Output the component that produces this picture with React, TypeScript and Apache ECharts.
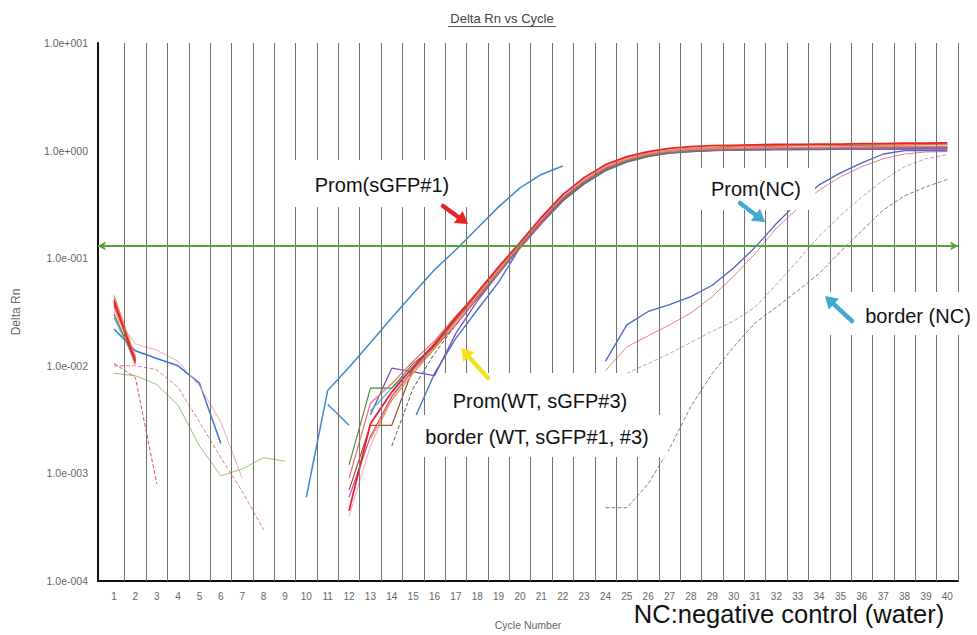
import React, { useEffect, useRef } from "react";
import * as echarts from "echarts";

const _ = null;
const FONT = "'Liberation Sans', Arial, sans-serif";

// ---------- axes ----------
const CYCLE_LABELS = [1, 2, 3, 4, 5, 6, 7, 8, 9, 10, 11, 12, 13, 14, 15, 16, 17, 18, 19, 20,
  21, 22, 23, 24, 25, 26, 27, 28, 29, 30, 31, 32, 33, 34, 35, 36, 37, 38, 39, 40];
const GRID_LINE_CYCLES = [1.5, 2.5, 3.5, 4.5, 5.5, 6.5, 7.5, 8.5, 9.5, 10.5, 11.5, 12.5, 13.5, 14.5,
  15.5, 16.5, 17.5, 18.5, 19.5, 20.5, 21.5, 22.5, 23.5, 24.5, 25.5, 26.5, 27.5, 28.5, 29.5, 30.5,
  31.5, 32.5, 33.5, 34.5, 35.5, 36.5, 37.5, 38.5, 39.5, 40.5];
const THRESHOLD = 0.125;

// ---------- data: Delta Rn per cycle (index 0 = cycle 1) ----------
// main cluster: Prom(WT, sGFP#3), border (WT, sGFP#1, #3)
const WT_RED = [0.040, 0.011, _, _, _, _, _, _, _, _, _,
  0.00045, 0.0029, 0.0057, 0.0098, 0.016, 0.028, 0.048, 0.083, 0.14,
  0.24, 0.39, 0.56, 0.74, 0.88, 0.98, 1.05, 1.09, 1.11, 1.12,
  1.13, 1.14, 1.14, 1.15, 1.15, 1.16, 1.16, 1.17, 1.17, 1.18];
const WT_PINK = [0.035, 0.012, _, _, _, _, _, _, _, _, _,
  0.0009, 0.0045, 0.0068, 0.011, 0.017, 0.029, 0.047, 0.080, 0.135,
  0.23, 0.37, 0.53, 0.70, 0.83, 0.93, 0.99, 1.02, 1.04, 1.05,
  1.06, 1.06, 1.07, 1.07, 1.08, 1.08, 1.09, 1.09, 1.10, 1.10];
const WT_ORANGE = [0.045, 0.012, _, _, _, _, _, _, _, _, _,
  _, 0.0021, 0.0048, 0.0085, 0.0145, 0.026, 0.045, 0.078, 0.134,
  0.23, 0.37, 0.53, 0.71, 0.85, 0.95, 1.01, 1.05, 1.07, 1.09,
  1.10, 1.11, 1.12, 1.12, 1.13, 1.13, 1.14, 1.14, 1.15, 1.15];
const WT_GREEN = [0.030, 0.011, _, _, _, _, _, _, _, _, _,
  0.0012, 0.0062, 0.0062, 0.0105, 0.015, 0.026, 0.044, 0.075, 0.128,
  0.22, 0.35, 0.50, 0.66, 0.79, 0.89, 0.96, 1.00, 1.02, 1.03,
  1.04, 1.05, 1.05, 1.06, 1.06, 1.07, 1.07, 1.08, 1.08, 1.09];
const WT_BROWN = [0.038, 0.0105, _, _, _, _, _, _, _, _, _,
  0.0007, 0.0028, 0.0028, 0.0095, 0.0155, 0.027, 0.046, 0.079, 0.133,
  0.225, 0.36, 0.52, 0.69, 0.82, 0.92, 0.99, 1.03, 1.06, 1.08,
  1.09, 1.10, 1.11, 1.11, 1.12, 1.12, 1.13, 1.13, 1.14, 1.14];
const WT_PURPLE = [0.036, 0.012, _, _, _, _, _, _, _, _, _,
  _, 0.0035, 0.0095, 0.0088, 0.0081, 0.020, 0.040, 0.072, 0.125,
  0.21, 0.34, 0.49, 0.65, 0.78, 0.88, 0.95, 0.98, 1.00, 1.01,
  1.01, 1.02, 1.02, 1.02, 1.03, 1.03, 1.03, 1.03, 1.04, 1.04];
const WT_BLUE = [_, _, _, _, _, _, _, _, _, _, _,
  _, _, _, 0.0030, 0.0085, 0.018, 0.033, 0.060, 0.125,
  0.21, 0.34, 0.49, 0.65, 0.79, 0.89, 0.95, 0.98, 1.00, 1.01,
  1.02, 1.02, 1.02, 1.03, 1.03, 1.03, 1.03, 1.04, 1.04, 1.04];
const WT_LIGHTPINK = [0.032, 0.010, _, _, _, _, _, _, _, _, _,
  0.0004, 0.0018, 0.0050, 0.0090, 0.0145, 0.025, 0.043, 0.074, 0.128,
  0.22, 0.36, 0.51, 0.68, 0.81, 0.91, 0.97, 1.01, 1.03, 1.04,
  1.05, 1.05, 1.06, 1.06, 1.07, 1.07, 1.08, 1.08, 1.09, 1.09];
const WT_MAGENTA = [0.042, 0.0115, _, _, _, _, _, _, _, _, _,
  0.0006, 0.0022, 0.0052, 0.0092, 0.0145, 0.024, 0.042, 0.072, 0.124,
  0.21, 0.35, 0.50, 0.67, 0.80, 0.90, 0.96, 0.99, 1.01, 1.02,
  1.03, 1.03, 1.04, 1.04, 1.05, 1.05, 1.05, 1.06, 1.06, 1.06];
const WT_CYAN = [0.028, 0.011, _, _, _, _, _, _, _, _, _,
  _, 0.0038, 0.0062, 0.0095, 0.0155, 0.027, 0.046, 0.079, 0.134,
  0.225, 0.36, 0.52, 0.69, 0.82, 0.92, 0.98, 1.02, 1.04, 1.05,
  1.05, 1.06, 1.06, 1.07, 1.07, 1.07, 1.08, 1.08, 1.08, 1.08];
const WT_GRAY = [_, _, _, _, _, _, _, _, _, _, _,
  _, _, 0.0018, 0.0062, 0.013, 0.024, 0.042, 0.074, 0.130,
  0.22, 0.36, 0.51, 0.67, 0.80, 0.90, 0.96, 1.00, 1.02, 1.03,
  1.04, 1.04, 1.05, 1.05, 1.05, 1.06, 1.06, 1.06, 1.07, 1.07];

// Prom(sGFP#1)
const SGFP1 = [_, _, _, _, _, _, _, _, _, 0.0006,
  0.0059, 0.0097, 0.0164, 0.028, 0.047, 0.078, 0.12, 0.19, 0.30, 0.45,
  0.60, 0.72];
const SGFP1_FRAG = [_, _, _, _, _, _, _, _, _, _, 0.0044, 0.0028];

// Prom(NC) and border (NC)
const NC_BLUE = [_, _, _, _, _, _, _, _, _, _, _, _, _, _, _, _, _, _, _, _, _, _, _,
  0.011, 0.024, 0.032, 0.037, 0.044, 0.056, 0.081,
  0.126, 0.21, 0.33, 0.48, 0.62, 0.77, 0.93, 1.00, 1.00, 1.00];
const NC_PINK = [_, _, _, _, _, _, _, _, _, _, _, _, _, _, _, _, _, _, _, _, _, _, _,
  0.009, 0.015, 0.019, 0.024, 0.031, 0.044, 0.068,
  0.11, 0.19, 0.29, 0.43, 0.57, 0.71, 0.84, 0.93, 0.97, 0.98];
const NC_MAGENTA = [_, _, _, _, _, _, _, _, _, _, _, _, _, _, _, _, _, _, _, _, _, _, _, _,
  0.0085, 0.0105, 0.013, 0.0165, 0.021, 0.026,
  0.035, 0.057, 0.095, 0.16, 0.25, 0.37, 0.53, 0.71, 0.84, 0.92];
const NC_GRAY = [_, _, _, _, _, _, _, _, _, _, _, _, _, _, _, _, _, _, _, _, _, _, _,
  0.00048, 0.00048, 0.0008, 0.0017, 0.0042, 0.0085, 0.015,
  0.025, 0.035, 0.050, 0.072, 0.115, 0.18, 0.28, 0.38, 0.46, 0.54];

// early-cycle noise
const NOISE_BLUE = [0.022, 0.0138, 0.0117, 0.0100, 0.0069, 0.0019];
const NOISE_PINK_A = [0.030, 0.016, 0.014, 0.011, 0.0065, 0.0030, 0.0009];
const NOISE_PINK_B = [0.0100, 0.0100, 0.0092, 0.0063, 0.0030, 0.0014, 0.00068, 0.0003];
const NOISE_GREEN = [0.0085, 0.0081, 0.0067, 0.0043, 0.0018, 0.00095, 0.0011, 0.0014, 0.0013];
const NOISE_RED = [0.0105, 0.0078, 0.0008];

const pts = (vals: (number | null)[]) => vals.map((v, i) => [i + 1, v]);

function curve(name: string, vals: (number | null)[], color: string, width = 1.2, type = "solid") {
  return {
    name,
    type: "line",
    data: pts(vals),
    showSymbol: false,
    symbol: "none",
    silent: true,
    connectNulls: false,
    z: 3,
    lineStyle: { color, width, type },
  };
}

function arrow(x1: number, y1: number, x2: number, y2: number, color: string) {
  const ang = Math.atan2(y2 - y1, x2 - x1);
  const hl = 12;
  const hw = 7.5;
  const bx = x2 - hl * Math.cos(ang);
  const by = y2 - hl * Math.sin(ang);
  const px = -Math.sin(ang);
  const py = Math.cos(ang);
  return [
    { type: "line", z: 120, shape: { x1, y1, x2: bx, y2: by }, style: { stroke: color, lineWidth: 4.5, lineCap: "round" } },
    {
      type: "polygon", z: 120,
      shape: { points: [[x2, y2], [bx + px * hw, by + py * hw], [bx - px * hw, by - py * hw]] },
      style: { fill: color },
    },
  ];
}

function label(text: string, x: number, y: number, size = 20) {
  return {
    type: "text", z: 115, x, y,
    style: { text, fontSize: size, fontFamily: FONT, fill: "#111", align: "center", verticalAlign: "middle" },
  };
}

function mask(x: number, y: number, width: number, height: number) {
  return { type: "rect", z: 110, shape: { x, y, width, height }, style: { fill: "#ffffff" } };
}

const fmtY = (v: number) => {
  const e = Math.round(Math.log10(v));
  return "1.0e" + (e < 0 ? "-" : "+") + String(Math.abs(e)).padStart(3, "0");
};

export default function App() {
  const ref = useRef<HTMLDivElement>(null);
  useEffect(() => {
    const chart = echarts.init(ref.current!, null, { renderer: "svg" });
    const option: any = {
      animation: false,
      backgroundColor: "#ffffff",
      grid: { left: 98, right: 19, top: 43, bottom: 52, containLabel: false },
      xAxis: {
        type: "value",
        min: 0.25,
        max: 40.5,
        name: "Cycle Number",
        nameLocation: "middle",
        nameGap: 38,
        nameTextStyle: { fontFamily: FONT, fontSize: 10.5, color: "#666" },
        axisLine: { show: true, lineStyle: { color: "#111", width: 2 } },
        axisTick: { show: false },
        splitLine: { show: false },
        axisLabel: {
          customValues: CYCLE_LABELS,
          formatter: (v: number) => (Number.isInteger(v) ? String(v) : ""),
          fontSize: 10,
          fontFamily: FONT,
          color: "#666",
          margin: 10,
        },
      },
      yAxis: {
        type: "log",
        logBase: 10,
        min: 0.0001,
        max: 10,
        name: "Delta Rn",
        nameLocation: "middle",
        nameGap: 76,
        nameTextStyle: { fontFamily: FONT, fontSize: 12, color: "#666" },
        axisLine: { show: true, lineStyle: { color: "#111", width: 2 } },
        axisTick: { show: false },
        splitLine: { show: false },
        axisLabel: { formatter: fmtY, fontSize: 10.5, fontFamily: FONT, color: "#666", margin: 10 },
      },
      series: [
        {
          type: "line", data: [], silent: true, z: 1,
          markLine: {
            silent: true, symbol: ["none", "none"], label: { show: false },
            lineStyle: { color: "#707070", width: 1, type: "solid" },
            emphasis: { disabled: true },
            data: GRID_LINE_CYCLES.map((c) => ({ xAxis: c })),
          },
        },
        curve("noise blue", NOISE_BLUE, "#3a78c8", 1.5),
        curve("noise pink a", NOISE_PINK_A, "#f2a7b8", 1),
        curve("noise pink b", NOISE_PINK_B, "#e5788e", 1, "dashed"),
        curve("noise green", NOISE_GREEN, "#98c47a", 1),
        curve("noise red", NOISE_RED, "#e05060", 1, "dashed"),
        curve("NC gray", NC_GRAY, "#8c7a96", 1, "dashed"),
        curve("NC magenta", NC_MAGENTA, "#d08fd0", 1, "dashed"),
        curve("NC pink", NC_PINK, "#e87f98", 1),
        curve("NC blue", NC_BLUE, "#4a67c4", 1.3),
        curve("sGFP#1", SGFP1, "#3d8ad2", 1.5),
        curve("sGFP#1 frag", SGFP1_FRAG, "#3d8ad2", 1.3),
        curve("WT gray", WT_GRAY, "#5a5a5a", 1, "dashed"),
        curve("WT blue", WT_BLUE, "#3f6ec6", 1.3),
        curve("WT purple", WT_PURPLE, "#7a55b8", 1.3),
        curve("WT cyan", WT_CYAN, "#46b3dc", 1.2),
        curve("WT lightpink", WT_LIGHTPINK, "#f5b4c3", 1.2),
        curve("WT magenta", WT_MAGENTA, "#d44a9c", 1.2),
        curve("WT green", WT_GREEN, "#4f8f3a", 1.2),
        curve("WT brown", WT_BROWN, "#a3532e", 1.2),
        curve("WT orange", WT_ORANGE, "#f0953a", 1.4),
        curve("WT pink", WT_PINK, "#f07b8c", 1.4),
        curve("WT red", WT_RED, "#e8232b", 1.8),
        {
          type: "line", data: [], silent: true, z: 4,
          markLine: {
            silent: true, symbol: ["arrow", "arrow"], symbolSize: [7, 8], label: { show: false },
            lineStyle: { color: "#58a23c", width: 2, type: "solid" },
            emphasis: { disabled: true },
            data: [{ yAxis: THRESHOLD }],
          },
        },
      ],
      graphic: [
        {
          type: "text", x: 502, y: 18, z: 100,
          style: { text: "Delta Rn vs Cycle", fontSize: 13, fontFamily: FONT, fill: "#444", align: "center", verticalAlign: "middle" },
        },
        { type: "line", z: 100, shape: { x1: 448, y1: 26.5, x2: 556, y2: 26.5 }, style: { stroke: "#555", lineWidth: 1 } },
        mask(290, 160, 180, 47),
        mask(692, 168, 123, 42),
        mask(820, 292, 157, 43),
        mask(438, 373, 212, 42),
        mask(412, 415, 256, 42),
        label("Prom(sGFP#1)", 382, 185),
        label("Prom(NC)", 756, 189),
        label("border (NC)", 918, 316),
        label("Prom(WT, sGFP#3)", 540, 401),
        label("border (WT, sGFP#1, #3)", 537, 437),
        label("NC:negative control (water)", 789, 614, 25.5),
        ...arrow(443, 206, 468, 224, "#e8232b"),
        ...arrow(740, 203, 765, 222, "#45a9cf"),
        ...arrow(852, 321, 825, 296, "#45a9cf"),
        ...arrow(488, 378, 461, 348, "#f2e21e"),
      ],
    };
    chart.setOption(option);
    return () => chart.dispose();
  }, []);
  return (
    <div
      ref={ref}
      style={{ position: "fixed", left: 0, top: 0, width: 977, height: 635, background: "#fff" }}
    />
  );
}
